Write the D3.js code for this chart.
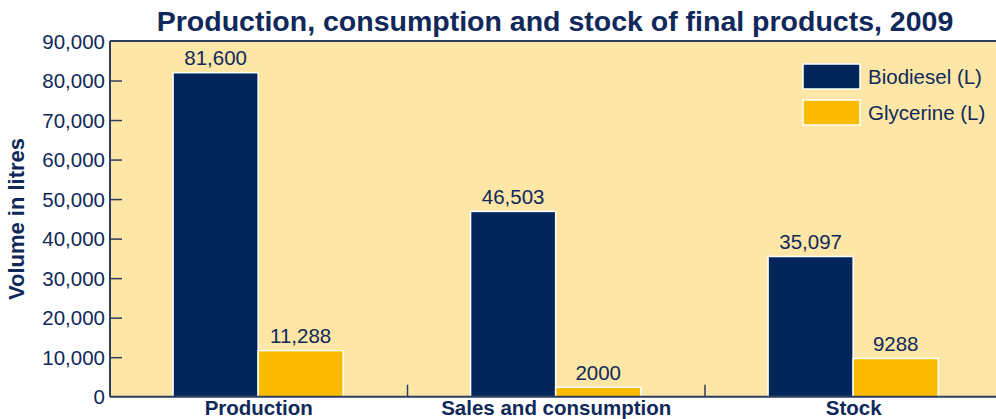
<!DOCTYPE html>
<html>
<head>
<meta charset="utf-8">
<script src="https://cdn.jsdelivr.net/npm/d3@7"></script>
<style>
  body { margin: 0; background: #fff; }
  text { font-family: "Liberation Sans", Arial, sans-serif; fill: #10295a; }
</style>
</head>
<body>
<svg class="BarChart" width="996" height="419"></svg>
<script>
// chart data
var categories = ["Production", "Sales and consumption", "Stock"];
var seriesNames = ["Biodiesel (L)", "Glycerine (L)"];
var biodiesel = [81600, 46503, 35097];
var glycerine = [11288, 2000, 9288];
var valueLabels = [["81,600", "46,503", "35,097"], ["11,288", "2000", "9288"]];
var yTicks = [0, 10000, 20000, 30000, 40000, 50000, 60000, 70000, 80000, 90000];

var meta = {};
meta['colors'] = ["#022659", "#fbbb00"];
meta['axisColor'] = "#2c3e5e";

function renderBarChart()
{
    var svg = d3.select(".BarChart");
    const margin = { 'top' : 41, 'left' : 110, 'right' : 0, 'bottom' : 22 };
    const width = 996 - margin.left;
    const height = 396.7 - margin.top;

    var g = svg.append('g')
        .attr('transform', `translate(${margin.left}, ${margin.top})`);

    // background
    g.append('rect')
        .attr('x', 0).attr('y', 0)
        .attr('width', width).attr('height', height)
        .attr('fill', '#fde6a6');

    const yScale = d3.scaleLinear()
        .domain([0, 90000])
        .range([height, 0]);

    const x0 = d3.scaleBand()
        .domain(categories)
        .range([0, 892.5]);

    const x1 = d3.scaleBand()
        .domain([0, 1])
        .range([x0.bandwidth() * 0.212, x0.bandwidth() * 0.784]);

    // y axis ticks (inward)
    var yAxis = g.append('g')
        .call(d3.axisRight(yScale)
            .tickValues(yTicks)
            .tickSize(12)
            .tickFormat(''));
    yAxis.select('.domain').remove();
    yAxis.selectAll('.tick line').attr('stroke', meta['axisColor']).attr('stroke-width', 1.5);
    yAxis.selectAll('.tick').filter(d => d === 0 || d === 90000).select('line').remove();

    g.selectAll('.y-label')
        .data(yTicks)
        .enter()
        .append('text')
        .attr('class', 'y-label')
        .attr('x', -5)
        .attr('y', d => yScale(d) + 7.5)
        .attr('text-anchor', 'end')
        .style('font-size', '20.5px')
        .text(d => d === 0 ? "0" : d3.format(",")(d));

    // bars
    var data = [biodiesel, glycerine];
    var groups = g.selectAll('.group')
        .data(categories)
        .enter()
        .append('g')
        .attr('class', 'group')
        .attr('transform', d => `translate(${x0(d)},0)`);

    var rows = (d, i) => data.map((s, j) => ({ 's' : j, 'v' : s[i], 'label' : valueLabels[j][i] }));

    groups.selectAll('rect')
        .data(rows)
        .enter()
        .append('rect')
        .attr('x', d => x1(d.s))
        .attr('y', d => yScale(d.v) - 1.5)
        .attr('width', x1.bandwidth())
        .attr('height', d => height - yScale(d.v) + 1.5)
        .attr('fill', d => meta['colors'][d.s])
        .attr('stroke', '#ffffff')
        .attr('stroke-width', 1.5);

    groups.selectAll('.value')
        .data(rows)
        .enter()
        .append('text')
        .attr('class', 'value')
        .attr('x', d => x1(d.s) + x1.bandwidth() / 2)
        .attr('y', d => yScale(d.v) - 9)
        .attr('text-anchor', 'middle')
        .style('font-size', '20.5px')
        .text(d => d.label);

    // category divider ticks
    g.selectAll('.divider')
        .data(categories.slice(1))
        .enter()
        .append('line')
        .attr('x1', d => x0(d)).attr('x2', d => x0(d))
        .attr('y1', height).attr('y2', height - 12)
        .attr('stroke', meta['axisColor'])
        .attr('stroke-width', 1.5);

    // frame lines
    g.append('line')
        .attr('x1', 0).attr('x2', width).attr('y1', 0).attr('y2', 0)
        .attr('stroke', meta['axisColor']).attr('stroke-width', 2);
    g.append('line')
        .attr('x1', 0).attr('x2', width).attr('y1', height).attr('y2', height)
        .attr('stroke', meta['axisColor']).attr('stroke-width', 2);
    g.append('line')
        .attr('x1', 0).attr('x2', 0).attr('y1', 0).attr('y2', height)
        .attr('stroke', meta['axisColor']).attr('stroke-width', 2);

    // category labels
    g.selectAll('.x-label')
        .data(categories)
        .enter()
        .append('text')
        .attr('class', 'x-label')
        .attr('x', d => x0(d) + x0.bandwidth() / 2)
        .attr('y', height + 18)
        .attr('text-anchor', 'middle')
        .style('font-size', '20.5px')
        .style('font-weight', 'bold')
        .text(d => d);

    // legend
    var legend = g.selectAll('.legend')
        .data(seriesNames)
        .enter()
        .append('g')
        .attr('class', 'legend')
        .attr('transform', (d, i) => `translate(${803 - margin.left}, ${64 - margin.top + i * 36})`);

    legend.append('rect')
        .attr('width', 57).attr('height', 25)
        .attr('fill', (d, i) => meta['colors'][i])
        .attr('stroke', '#ffffff')
        .attr('stroke-width', 1.5);

    legend.append('text')
        .attr('x', 65)
        .attr('y', 20)
        .style('font-size', '20.5px')
        .text(d => d);

    // title
    svg.append('text')
        .attr('x', 555)
        .attr('y', 31)
        .attr('text-anchor', 'middle')
        .style('font-size', '28.5px')
        .style('font-weight', 'bold')
        .text("Production, consumption and stock of final products, 2009");

    // y axis title
    svg.append('text')
        .attr('transform', 'translate(24, 219) rotate(-90)')
        .attr('text-anchor', 'middle')
        .style('font-size', '22px')
        .style('font-weight', 'bold')
        .text("Volume in litres");
}

renderBarChart();
</script>
</body>
</html>
